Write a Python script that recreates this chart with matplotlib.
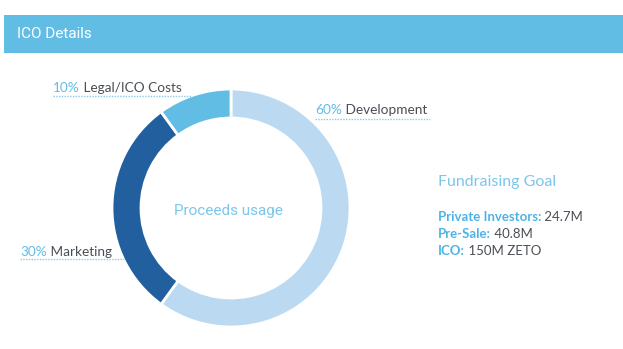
import matplotlib
matplotlib.use("Agg")
import matplotlib.pyplot as plt
from matplotlib.patches import Rectangle

# data
categories = ["Development", "Marketing", "Legal/ICO Costs"]
shares = [60, 30, 10]
colors = ["#bbdaf2", "#215f9e", "#62bde5"]

goal_keys = ["Private Investors:", "Pre-Sale:", "ICO:"]
goal_vals = ["24.7M", "40.8M", "150M ZETO"]

W, H = 623, 349
fig = plt.figure(figsize=(W / 100, H / 100), dpi=100)
ax = fig.add_axes([0, 0, 1, 1])

BLUE = "#62bde5"
GREY = "#4a4f55"


def py(y):
    # pixel row from the top -> data y
    return H - y


# header bar
ax.add_patch(Rectangle((4, py(53)), W - 4, 38, color=BLUE, lw=0))
ax.text(17, py(34), "ICO Details", color="white", fontsize=11,
        family="Roboto", va="center", ha="left")

# donut
ax.pie(shares, colors=colors, startangle=90, counterclock=False,
       radius=119, center=(231, py(208)),
       wedgeprops=dict(width=29, edgecolor="white", linewidth=2))

ax.text(228, py(211), "Proceeds usage", color="#7cc6ec", fontsize=11,
        family="Roboto", ha="center", va="center")

# slice labels: (x, baseline y, underline y, underline end x)
label_pos = {
    "Development": (315, 114, 119, 430),
    "Marketing": (20, 256, 259, 124),
    "Legal/ICO Costs": (53, 92, 96, 192),
}
fig.canvas.draw()
for cat, share in zip(categories, shares):
    x, yb, yl, xe = label_pos[cat]
    t1 = ax.text(x, py(yb), f"{share}%", color=BLUE, fontsize=9.8,
                 family="Lato", ha="left", va="baseline")
    ax.annotate(" " + cat, xy=(1, 0), xycoords=t1, color=GREY,
                fontsize=9.8, family="Lato", ha="left", va="bottom")
    ax.plot([x, xe], [py(yl), py(yl)], color="#8cc8e8", lw=1,
            linestyle=(0, (1, 1)))

# fundraising goal
ax.text(438, py(182), "Fundraising Goal", color="#7cc6ec", fontsize=11.5,
        family="Lato", ha="left", va="center")
for i, (k, v) in enumerate(zip(goal_keys, goal_vals)):
    yy = py(217 + i * 17)
    t = ax.text(438, yy, k, color="#4db3e6", fontsize=9.5, family="Lato",
                fontweight="bold", ha="left", va="center")
    ax.annotate(" " + v, xy=(1, 0), xycoords=t, color=GREY, fontsize=9.5,
                family="Lato", ha="left", va="bottom")

ax.set_xlim(0, W)
ax.set_ylim(0, H)
ax.set_aspect("auto")
ax.axis("off")

fig.savefig("out.png", dpi=100)
